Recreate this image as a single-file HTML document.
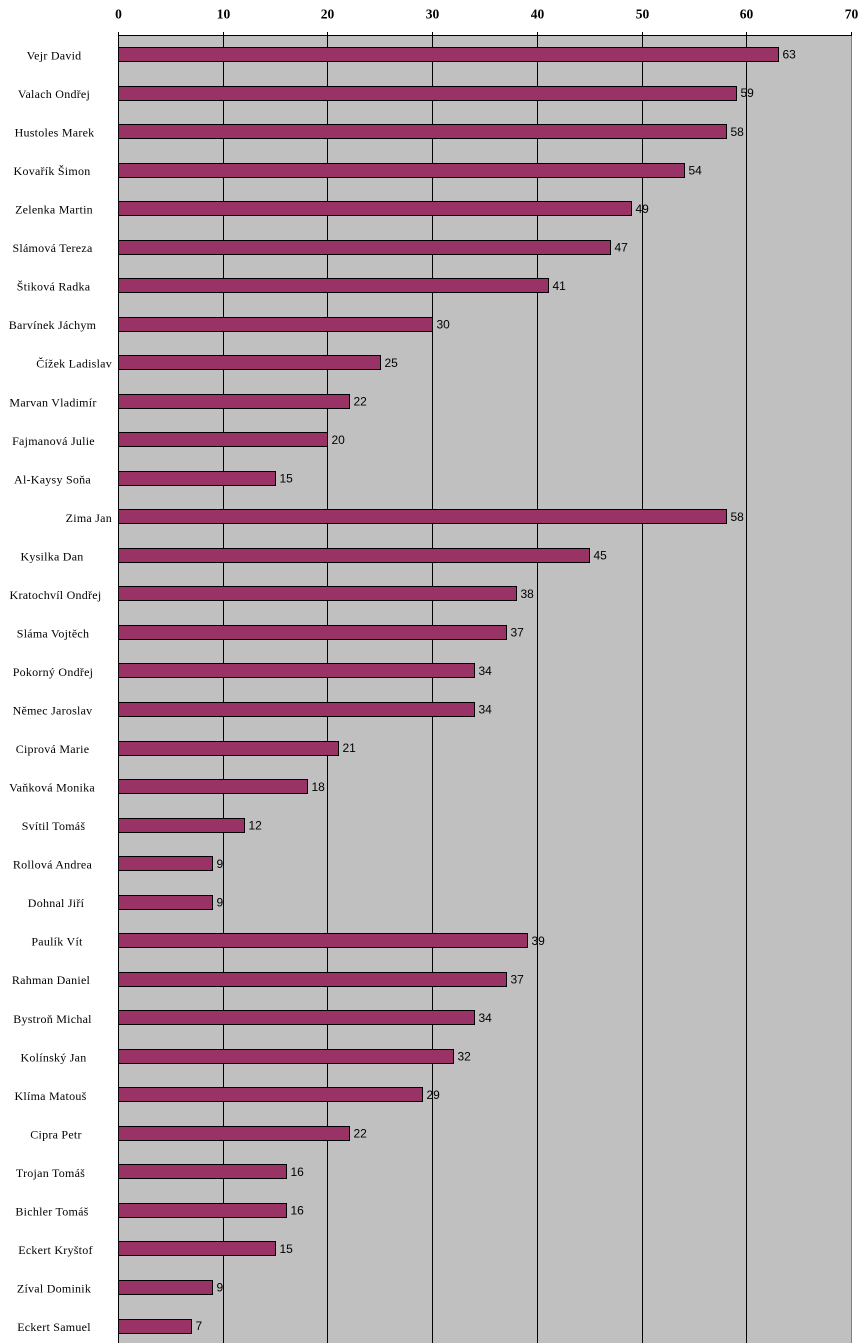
<!DOCTYPE html>
<html><head><meta charset="utf-8"><style>
html,body{margin:0;padding:0;background:#fff;}
svg{display:block;}
.c{font-family:"Liberation Serif","DejaVu Serif",serif;font-size:12px;fill:#000;letter-spacing:0.25px;}
.v{font-family:"Liberation Sans","DejaVu Sans",sans-serif;font-size:12px;fill:#000;}
.t{font-family:"Liberation Serif","DejaVu Serif",serif;font-size:13.5px;font-weight:bold;fill:#000;text-anchor:middle;}
</style></head><body>
<svg width="863" height="1343" viewBox="0 0 863 1343" xmlns="http://www.w3.org/2000/svg">
<rect x="118.5" y="35.5" width="733" height="1320" fill="#C0C0C0"/>
<line x1="851.5" y1="36" x2="851.5" y2="1343" stroke="#808080" stroke-width="1"/>
<g stroke="#000" stroke-width="1">
<line x1="223.5" y1="32" x2="223.5" y2="1343"/>
<line x1="327.5" y1="32" x2="327.5" y2="1343"/>
<line x1="432.5" y1="32" x2="432.5" y2="1343"/>
<line x1="537.5" y1="32" x2="537.5" y2="1343"/>
<line x1="642.5" y1="32" x2="642.5" y2="1343"/>
<line x1="746.5" y1="32" x2="746.5" y2="1343"/>
<line x1="851.5" y1="32" x2="851.5" y2="36"/>
<line x1="118" y1="35.5" x2="852" y2="35.5"/>
<line x1="118.5" y1="32" x2="118.5" y2="1343"/>
</g>
<g class="t">
<text x="118.5" y="18.5">0</text>
<text x="223.5" y="18.5">10</text>
<text x="327.5" y="18.5">20</text>
<text x="432.5" y="18.5">30</text>
<text x="537.5" y="18.5">40</text>
<text x="642.5" y="18.5">50</text>
<text x="746.5" y="18.5">60</text>
<text x="851.5" y="18.5">70</text>
</g>
<g fill="#993366" stroke="#000" stroke-width="1">
<rect x="118.5" y="47.5" width="660" height="14"/>
<rect x="118.5" y="86.5" width="618" height="14"/>
<rect x="118.5" y="124.5" width="608" height="14"/>
<rect x="118.5" y="163.5" width="566" height="14"/>
<rect x="118.5" y="201.5" width="513" height="14"/>
<rect x="118.5" y="240.5" width="492" height="14"/>
<rect x="118.5" y="278.5" width="430" height="14"/>
<rect x="118.5" y="317.5" width="314" height="14"/>
<rect x="118.5" y="355.5" width="262" height="14"/>
<rect x="118.5" y="394.5" width="231" height="14"/>
<rect x="118.5" y="432.5" width="209" height="14"/>
<rect x="118.5" y="471.5" width="157" height="14"/>
<rect x="118.5" y="509.5" width="608" height="14"/>
<rect x="118.5" y="548.5" width="471" height="14"/>
<rect x="118.5" y="586.5" width="398" height="14"/>
<rect x="118.5" y="625.5" width="388" height="14"/>
<rect x="118.5" y="663.5" width="356" height="14"/>
<rect x="118.5" y="702.5" width="356" height="14"/>
<rect x="118.5" y="741.5" width="220" height="14"/>
<rect x="118.5" y="779.5" width="189" height="14"/>
<rect x="118.5" y="818.5" width="126" height="14"/>
<rect x="118.5" y="856.5" width="94" height="14"/>
<rect x="118.5" y="895.5" width="94" height="14"/>
<rect x="118.5" y="933.5" width="409" height="14"/>
<rect x="118.5" y="972.5" width="388" height="14"/>
<rect x="118.5" y="1010.5" width="356" height="14"/>
<rect x="118.5" y="1049.5" width="335" height="14"/>
<rect x="118.5" y="1087.5" width="304" height="14"/>
<rect x="118.5" y="1126.5" width="231" height="14"/>
<rect x="118.5" y="1164.5" width="168" height="14"/>
<rect x="118.5" y="1203.5" width="168" height="14"/>
<rect x="118.5" y="1241.5" width="157" height="14"/>
<rect x="118.5" y="1280.5" width="94" height="14"/>
<rect x="118.5" y="1319.5" width="73" height="14"/>
</g>
<g class="v">
<text x="782.5" y="58.7">63</text>
<text x="740.5" y="97.2">59</text>
<text x="730.5" y="135.8">58</text>
<text x="688.5" y="174.3">54</text>
<text x="635.5" y="212.8">49</text>
<text x="614.5" y="251.4">47</text>
<text x="552.5" y="289.9">41</text>
<text x="436.5" y="328.4">30</text>
<text x="384.5" y="366.9">25</text>
<text x="353.5" y="405.5">22</text>
<text x="331.5" y="444">20</text>
<text x="279.5" y="482.5">15</text>
<text x="730.5" y="521.1">58</text>
<text x="593.5" y="559.6">45</text>
<text x="520.5" y="598.1">38</text>
<text x="510.5" y="636.7">37</text>
<text x="478.5" y="675.2">34</text>
<text x="478.5" y="713.7">34</text>
<text x="342.5" y="752.2">21</text>
<text x="311.5" y="790.8">18</text>
<text x="248.5" y="829.3">12</text>
<text x="216.5" y="867.8">9</text>
<text x="216.5" y="906.4">9</text>
<text x="531.5" y="944.9">39</text>
<text x="510.5" y="983.4">37</text>
<text x="478.5" y="1022">34</text>
<text x="457.5" y="1060.5">32</text>
<text x="426.5" y="1099">29</text>
<text x="353.5" y="1137.5">22</text>
<text x="290.5" y="1176.1">16</text>
<text x="290.5" y="1214.6">16</text>
<text x="279.5" y="1253.1">15</text>
<text x="216.5" y="1291.7">9</text>
<text x="195.5" y="1330.2">7</text>
</g>
<g class="c" text-anchor="middle">
<text x="54" y="59.5">Vejr David</text>
<text x="54" y="98">Valach Ondřej</text>
<text x="54.5" y="136.6">Hustoles Marek</text>
<text x="52" y="175.1">Kovařík Šimon</text>
<text x="54" y="213.6">Zelenka Martin</text>
<text x="52.5" y="252.2">Slámová Tereza</text>
<text x="53.5" y="290.7">Štiková Radka</text>
<text x="52.5" y="329.2">Barvínek Jáchym</text>
<text x="112" y="367.7" text-anchor="end">Čížek Ladislav</text>
<text x="53" y="406.3">Marvan Vladimír</text>
<text x="53.5" y="444.8">Fajmanová Julie</text>
<text x="52.5" y="483.3">Al-Kaysy Soňa</text>
<text x="112" y="521.9" text-anchor="end">Zima Jan</text>
<text x="52" y="560.4">Kysilka Dan</text>
<text x="55.5" y="598.9">Kratochvíl Ondřej</text>
<text x="53" y="637.5">Sláma Vojtěch</text>
<text x="53" y="676">Pokorný Ondřej</text>
<text x="52.5" y="714.5">Němec Jaroslav</text>
<text x="52.5" y="753">Ciprová Marie</text>
<text x="52" y="791.6">Vaňková Monika</text>
<text x="53.5" y="830.1">Svítil Tomáš</text>
<text x="52.5" y="868.6">Rollová Andrea</text>
<text x="56" y="907.2">Dohnal Jiří</text>
<text x="57" y="945.7">Paulík Vít</text>
<text x="51" y="984.2">Rahman Daniel</text>
<text x="52.5" y="1022.8">Bystroň Michal</text>
<text x="53.5" y="1061.3">Kolínský Jan</text>
<text x="50.5" y="1099.8">Klíma Matouš</text>
<text x="56" y="1138.3">Cipra Petr</text>
<text x="50.5" y="1176.9">Trojan Tomáš</text>
<text x="52" y="1215.4">Bichler Tomáš</text>
<text x="55.5" y="1253.9">Eckert Kryštof</text>
<text x="54" y="1292.5">Zíval Dominik</text>
<text x="54" y="1331">Eckert Samuel</text>
</g>
</svg>
</body></html>
